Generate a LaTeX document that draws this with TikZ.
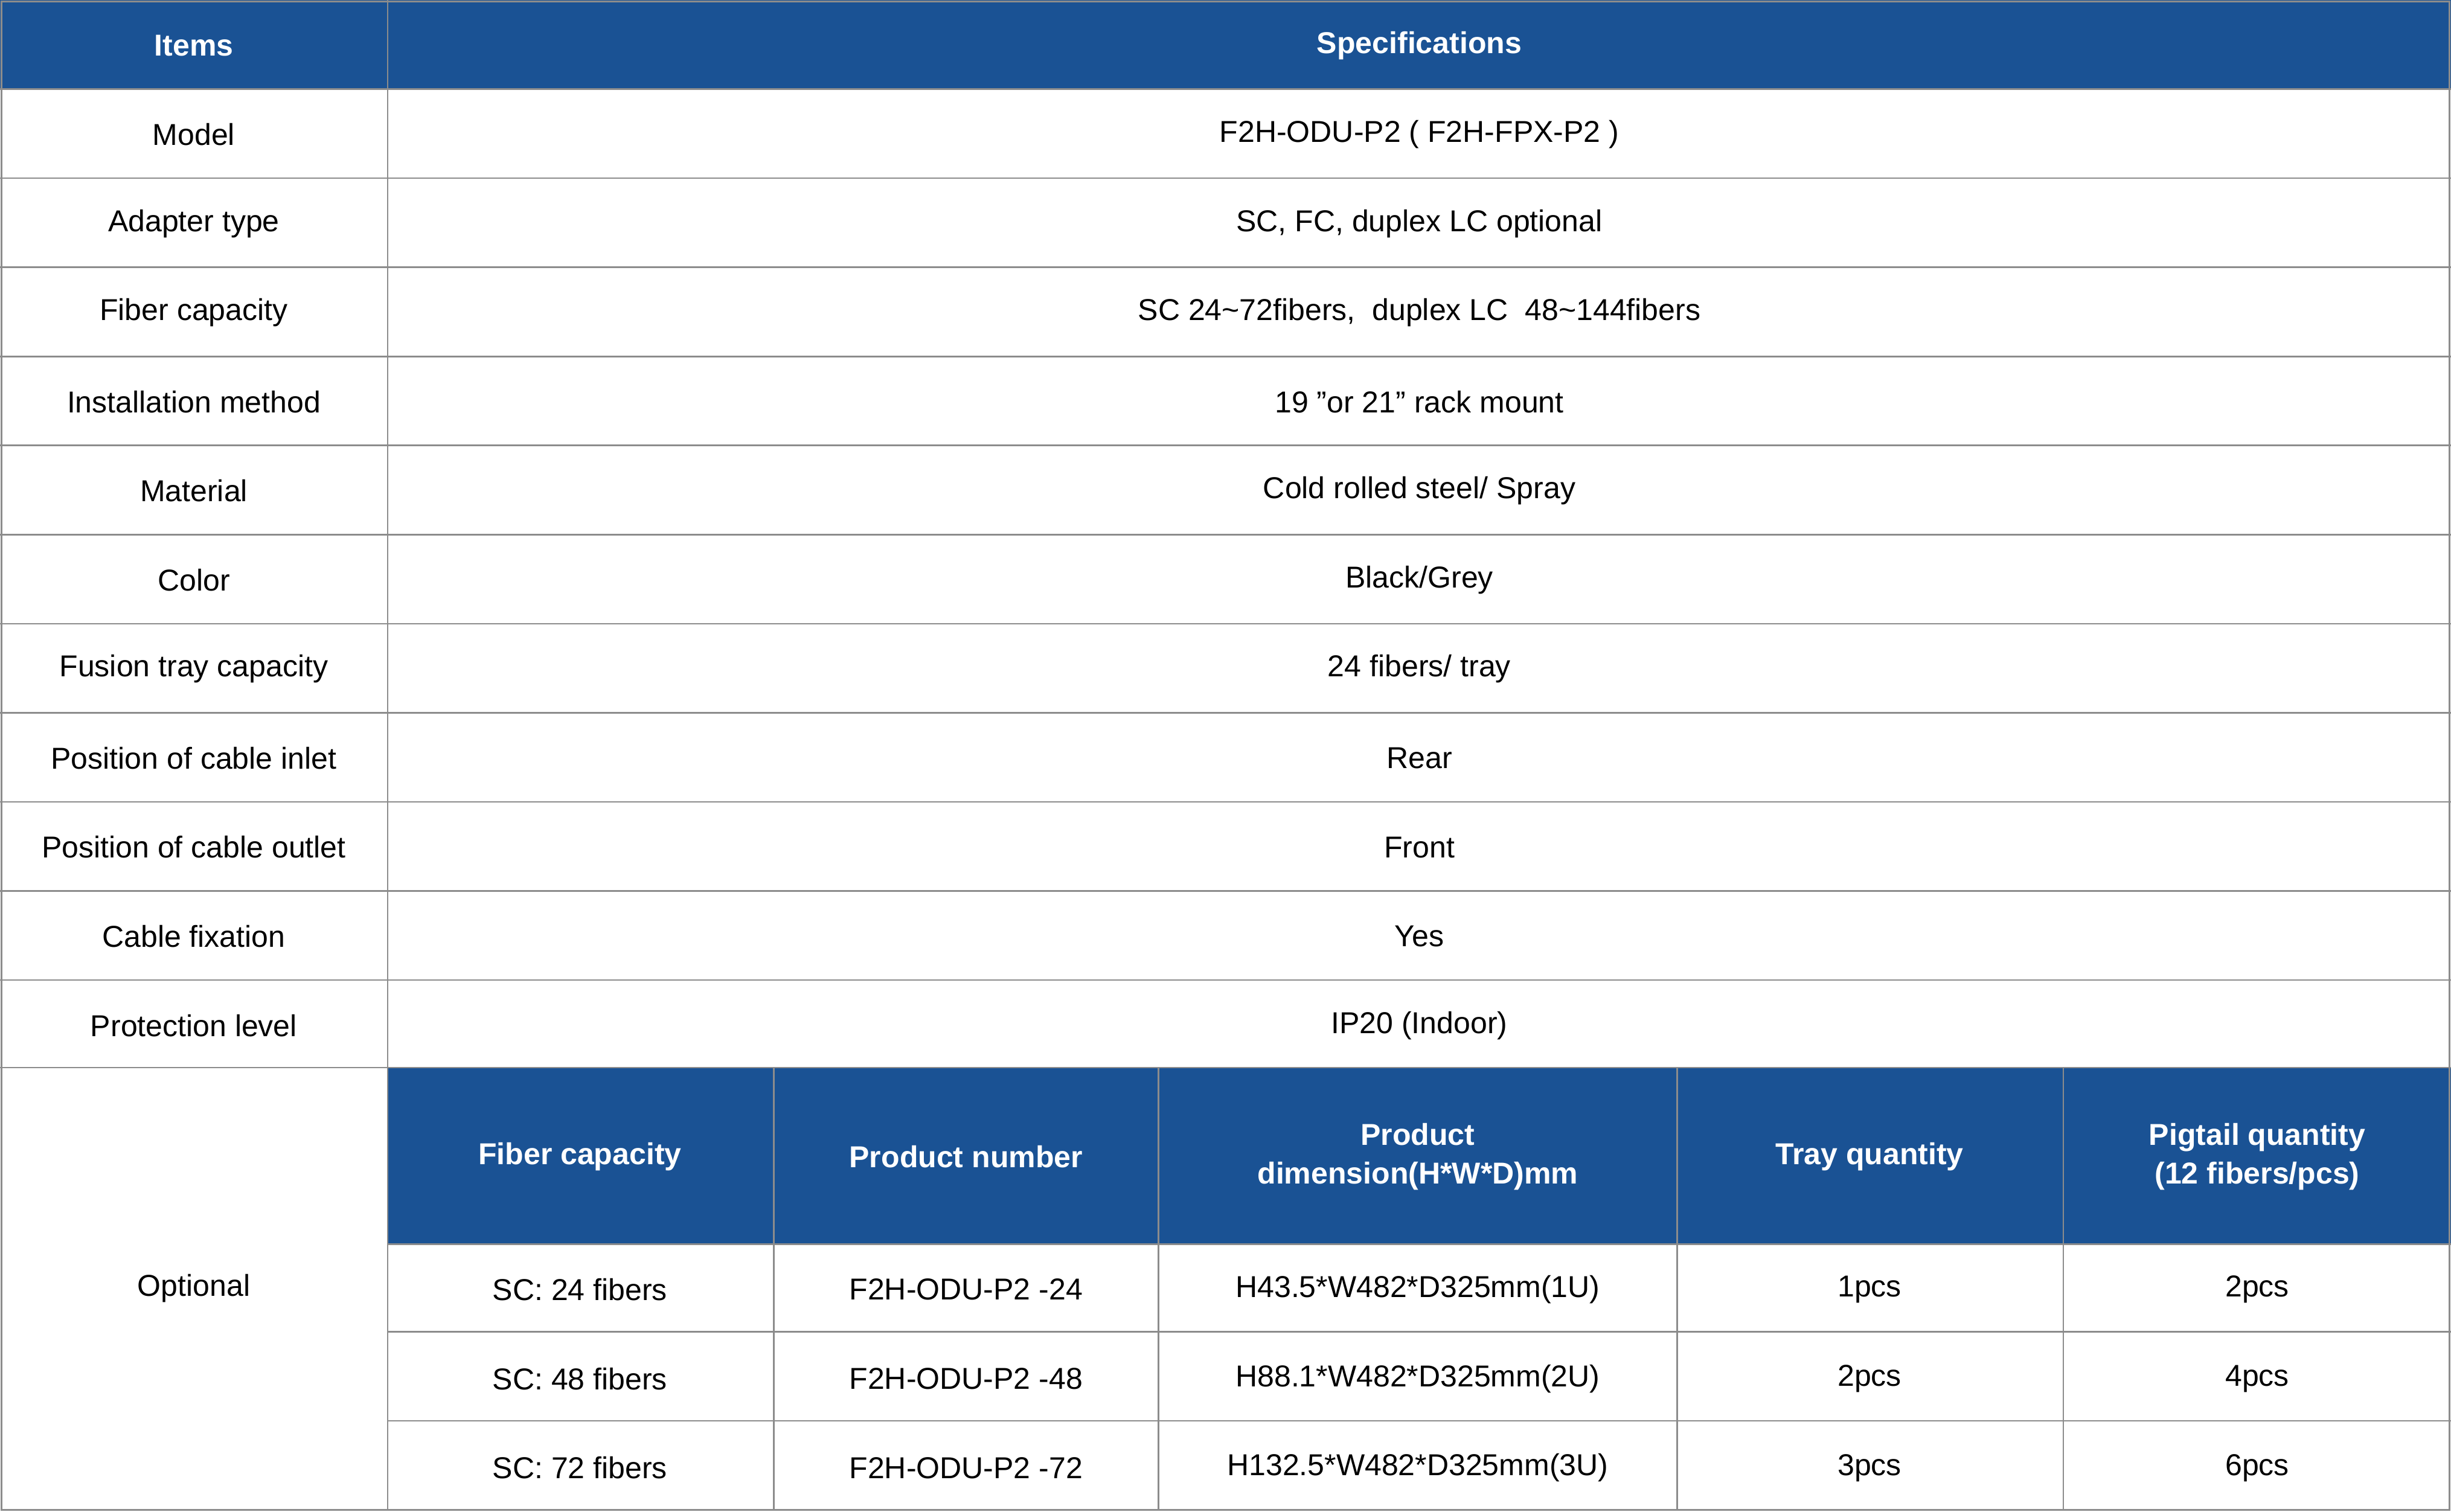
\documentclass[tikz,border=0pt]{standalone}
\usepackage{fontspec}
\setmainfont{Liberation Sans}
\usetikzlibrary{positioning}
\definecolor{headblue}{HTML}{1A5294}
\definecolor{gridgray}{HTML}{8C8C8C}
\tikzset{
  cell/.style={font=\fontsize{11}{14}\selectfont, text=black, align=center},
  headcell/.style={font=\fontsize{11}{14}\selectfont\bfseries, text=white, align=center},
  grid/.style={draw=gridgray, line width=0.6pt}
}
\begin{document}
\begin{tikzpicture}[x=0.02cm,y=-0.02cm]
\useasboundingbox (0,0) rectangle (1568,967);
% header fills
\fill[headblue] (0,0) rectangle (1568,57);
\fill[headblue] (248,683) rectangle (1568,796);
% main header
\node[headcell] (hitems) at (124,29) {Items};
\node[headcell] (hspecs) at (908,29) {Specifications};
% main rows
\foreach \lab/\val [count=\i] in {
  Model/{F2H-ODU-P2 ( F2H-FPX-P2 )},
  Adapter type/{SC, FC, duplex LC optional},
  Fiber capacity/{SC 24\textasciitilde72fibers,\ \ duplex LC\ \ 48\textasciitilde144fibers},
  Installation method/{19 "or 21" rack mount},
  Material/{Cold rolled steel/ Spray},
  Color/{Black/Grey},
  Fusion tray capacity/{24 fibers/ tray},
  Position of cable inlet/Rear,
  Position of cable outlet/Front,
  Cable fixation/Yes,
  Protection level/{IP20 (Indoor)}}{
  \node[cell] (item\i) at (124,{57*\i+29}) {\lab};
  \node[cell] (spec\i) at (908,{57*\i+29}) {\val};
  \draw[grid] (0,{57*\i}) -- (1568,{57*\i});
}
\draw[grid] (0,683) -- (1568,683);
\node[cell] (optional) at (124,824) {Optional};
% optional sub-table
\node[headcell] (hcap) at (371,740) {Fiber capacity};
\node[headcell] (hnum) at (618,740) {Product number};
\node[headcell] (hdim) at (907,740) {Product\\dimension(H*W*D)mm};
\node[headcell] (htray) at (1196,740) {Tray quantity};
\node[headcell] (hpig) at (1444,740) {Pigtail quantity\\(12 fibers/pcs)};
\foreach \cap/\num/\dim/\tray/\pig [count=\j] in {
  24/24/{H43.5*W482*D325mm(1U)}/1pcs/2pcs,
  48/48/{H88.1*W482*D325mm(2U)}/2pcs/4pcs,
  72/72/{H132.5*W482*D325mm(3U)}/3pcs/6pcs}{
  \node[cell] (cap\j) at (371,{796+57*\j-28}) {SC: \cap\ fibers};
  \node[cell] (num\j) at (618,{796+57*\j-28}) {F2H-ODU-P2 -\num};
  \node[cell] (dim\j) at (907,{796+57*\j-28}) {\dim};
  \node[cell] (tray\j) at (1196,{796+57*\j-28}) {\tray};
  \node[cell] (pig\j) at (1444,{796+57*\j-28}) {\pig};
}
\foreach \y in {796,852,909} \draw[grid] (248,\y) -- (1568,\y);
\foreach \x in {495,741,1073,1320} \draw[grid] (\x,683) -- (\x,966);
% outer frame
\draw[grid] (248,0) -- (248,966);
\draw[grid] (1,1) rectangle (1567,966);
\end{tikzpicture}
\end{document}
